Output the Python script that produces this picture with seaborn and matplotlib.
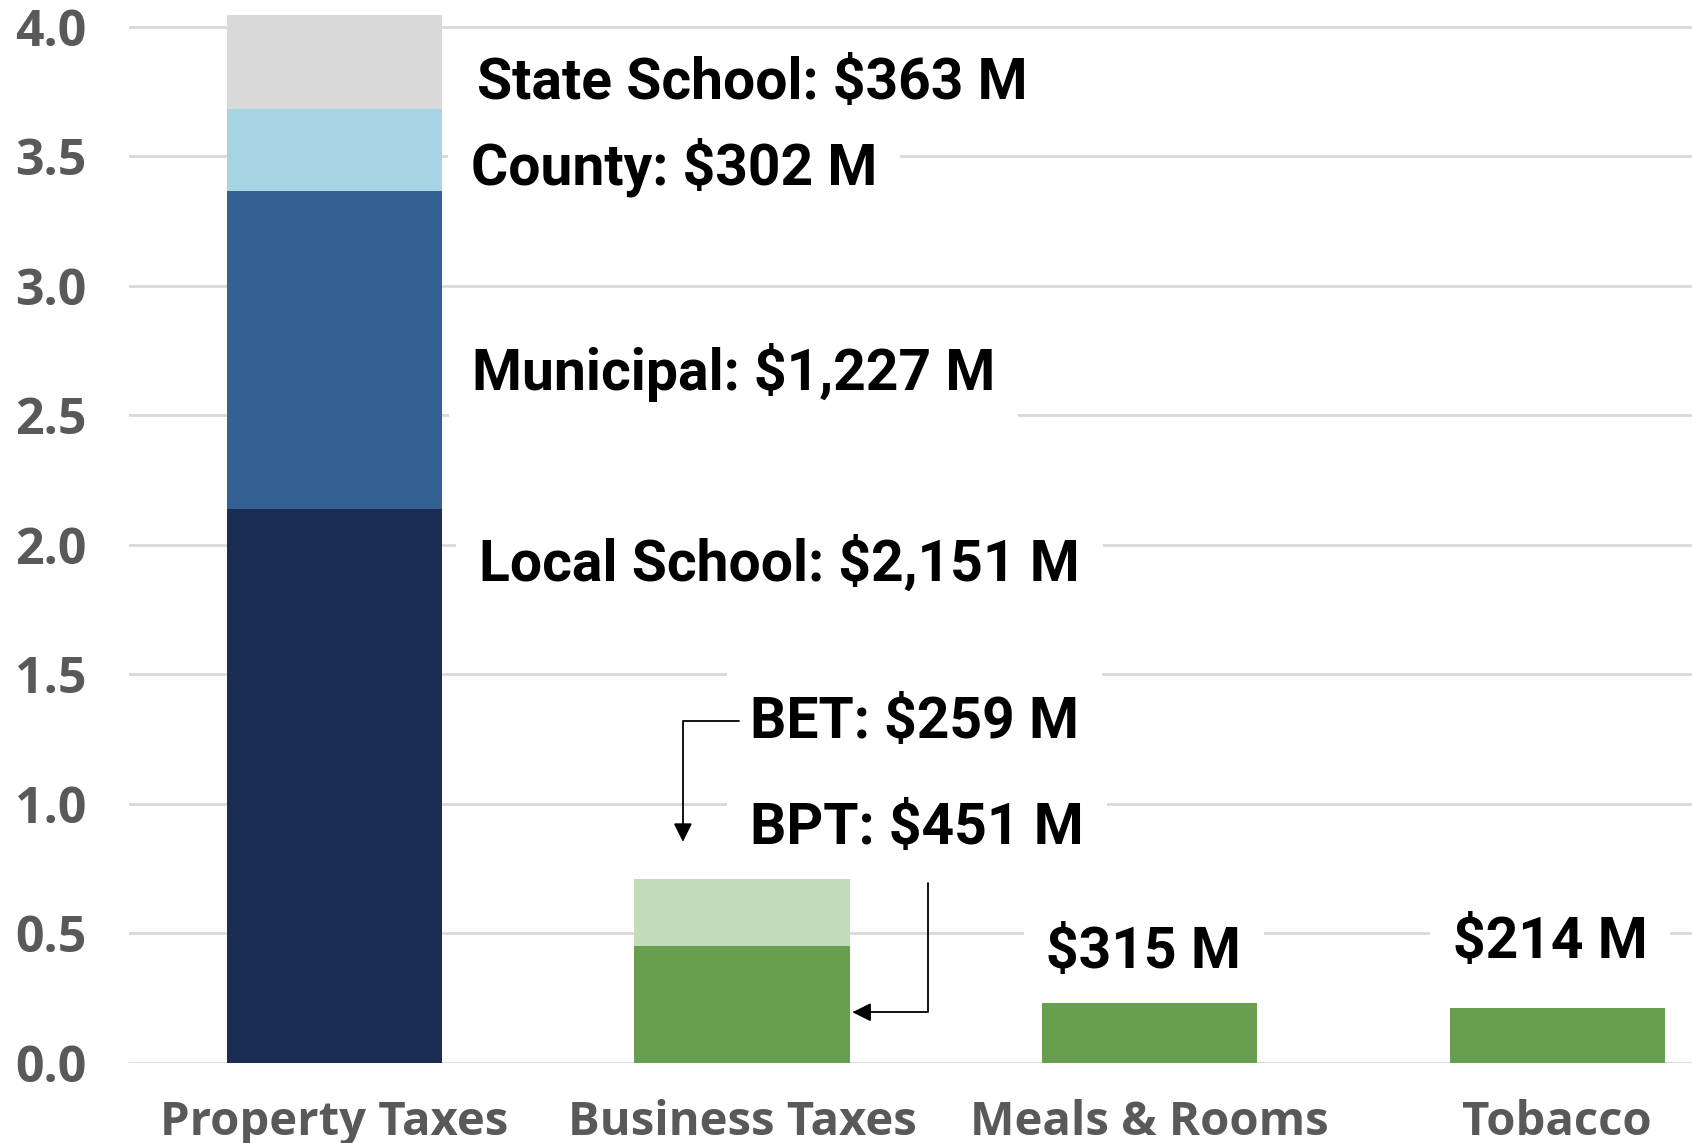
import pandas as pd
import matplotlib
matplotlib.use('Agg')
import matplotlib.pyplot as plt
import seaborn as sns

# -----------------------------
# Data (billions of dollars, as drawn)
# -----------------------------
categories = ['Property Taxes', 'Business Taxes', 'Meals & Rooms', 'Tobacco']

property_segments = ['Local School', 'Municipal', 'County', 'State School']
property_values = [2.14, 1.225, 0.32, 0.36]
property_labels = ['Local School: $2,151 M', 'Municipal: $1,227 M',
                   'County: $302 M', 'State School: $363 M']

business_segments = ['BPT', 'BET']
business_values = [0.45, 0.26]
business_labels = ['BPT: $451 M', 'BET: $259 M']

meals_value = 0.25
meals_label = '$315 M'
tobacco_value = 0.212
tobacco_label = '$214 M'

# colours per segment
property_colors = ['#1c2d54', '#356094', '#a6d4e2', '#d9d9d9']
business_colors = ['#6a9e4f', '#c3dbb8']
green = '#6a9e4f'

# -----------------------------
# Long table with cumulative tops
# -----------------------------
rows = []
cum = 0
for i, (seg, v, c) in enumerate(zip(property_segments, property_values, property_colors)):
    cum += v
    rows.append(dict(category=categories[0], segment=seg, level=i, top=cum, color=c))
cum = 0
for i, (seg, v, c) in enumerate(zip(business_segments, business_values, business_colors)):
    cum += v
    rows.append(dict(category=categories[1], segment=seg, level=i, top=cum, color=c))
rows.append(dict(category=categories[2], segment='Meals & Rooms', level=0, top=meals_value, color=green))
rows.append(dict(category=categories[3], segment='Tobacco', level=0, top=tobacco_value, color=green))
df = pd.DataFrame(rows)

sns.set_style('white')
plt.rcParams['font.family'] = ['Open Sans', 'DejaVu Sans']

fig = plt.figure(figsize=(16.92, 11.43), dpi=100)
ax = fig.add_axes([0.0765, 0.070, 0.9235, 0.930])

# stacked bars: draw highest level first, lower levels on top
for level in sorted(df['level'].unique(), reverse=True):
    sub = df[df['level'] == level]
    sns.barplot(data=sub, x='category', y='top', hue='category',
                palette=dict(zip(sub['category'], sub['color'])),
                order=categories, legend=False, saturation=1, width=0.528,
                errorbar=None, linewidth=0, ax=ax)

ax.set_xlim(-0.503, 3.331)
ax.set_ylim(0, 4.104)
ax.set_yticks([0, 0.5, 1.0, 1.5, 2.0, 2.5, 3.0, 3.5, 4.0])
ax.set_yticklabels([f'{t:.1f}' for t in ax.get_yticks()])
ax.set_xlabel('')
ax.set_ylabel('')
ax.yaxis.grid(True, color='#d9d9d9', linewidth=2)
ax.xaxis.grid(False)
ax.set_axisbelow(True)
for s in ax.spines.values():
    s.set_visible(False)
ax.tick_params(axis='y', length=0, pad=31, labelsize=36, labelcolor='#595959')
ax.tick_params(axis='x', length=0, pad=26, labelsize=34, labelcolor='#595959')
for lab in ax.get_xticklabels() + ax.get_yticklabels():
    lab.set_fontweight('bold')

# -----------------------------
# Labels
# -----------------------------
label_font = dict(fontsize=41, fontweight='bold', color='black',
                  family=['Roboto', 'DejaVu Sans'], va='center', zorder=3,
                  bbox=dict(facecolor='white', edgecolor='none', boxstyle='square,pad=0.4'))

property_label_pos = [(0.355, 1.925), (0.338, 2.667), (0.334, 3.46), (0.35, 3.78)]
for (x, y), txt in zip(property_label_pos, property_labels):
    ax.text(x, y, txt, ha='left', **label_font)

business_label_pos = [(1.02, 0.904), (1.02, 1.315)]
for (x, y), txt in zip(business_label_pos, business_labels):
    ax.text(x, y, txt, ha='left', **label_font)

ax.text(1.986, 0.426, meals_label, ha='center', **label_font)
ax.text(2.983, 0.465, tobacco_label, ha='center', **label_font)

# elbow arrows for business taxes
arrow = dict(arrowstyle='-|>', color='black', lw=1.3, mutation_scale=28,
             shrinkA=0, shrinkB=0)
ax.annotate('', xy=(0.855, 0.854), xytext=(0.993, 1.32),
            arrowprops=dict(connectionstyle='angle,angleA=0,angleB=90,rad=0', **arrow),
            zorder=4)
ax.annotate('', xy=(1.271, 0.196), xytext=(1.457, 0.696),
            arrowprops=dict(connectionstyle='angle,angleA=90,angleB=0,rad=0', **arrow),
            zorder=4)

plt.savefig('out.png', dpi=100)
